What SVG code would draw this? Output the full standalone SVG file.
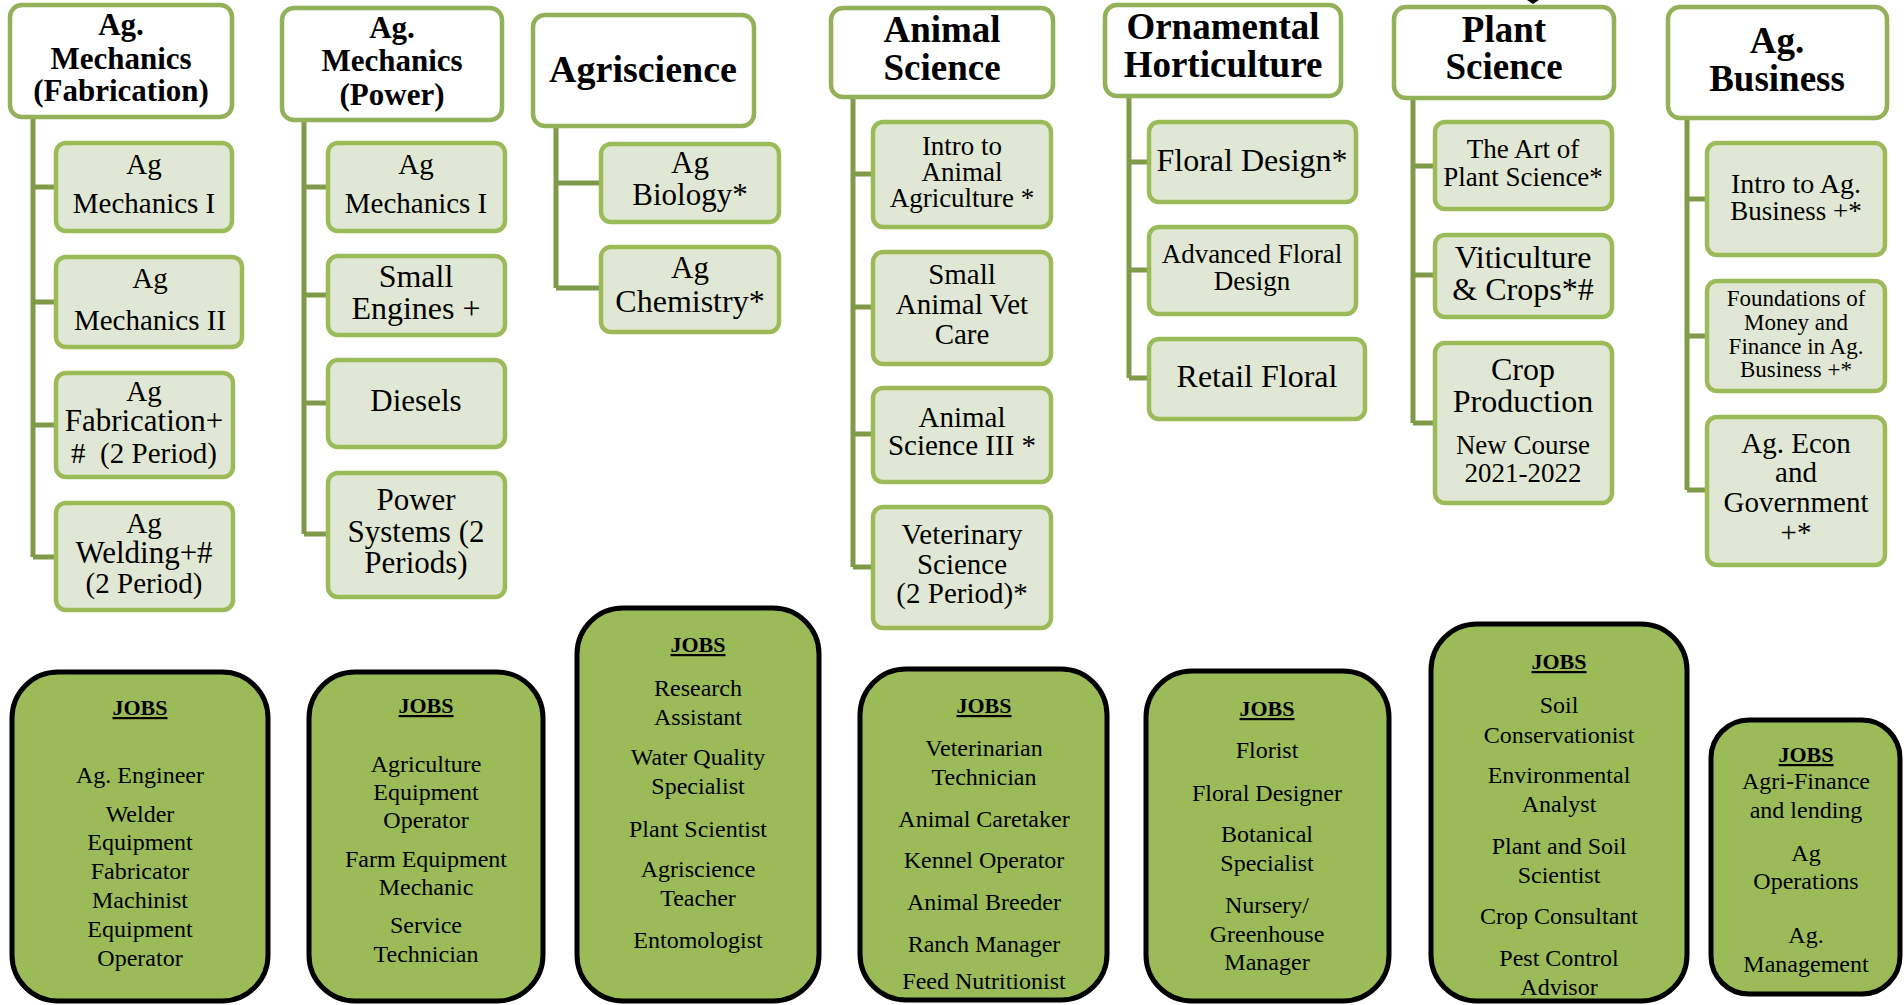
<svg xmlns="http://www.w3.org/2000/svg" width="1904" height="1005" viewBox="0 0 1904 1005" font-family="'Liberation Serif','DejaVu Serif',serif">
<style>
text{font-family:'Liberation Serif','DejaVu Serif',serif;fill:#000;text-anchor:middle}
.hd{fill:#fff;stroke:#93b158;stroke-width:4.5}
.cb{fill:#e0e8d5;stroke:#9bbb59;stroke-width:4.5}
.jb{fill:#9bbb59;stroke:#000;stroke-width:5}
.con{fill:none;stroke:#7f9b49;stroke-width:5}
.h1{font-size:31px;font-weight:bold}
.h2{font-size:37px;font-weight:bold}
.c{font-size:29px}
.cl{font-size:31px}
.cw{font-size:32px}
.cs{font-size:27px}
.cx{font-size:23px}
.j{font-size:24px}
.jh{font-size:22px;font-weight:bold;text-decoration:underline}
</style>
<rect width="1904" height="1005" fill="#fff"/>
<g id="connectors">
<path class="con" d="M33 117V557M33 187H56M33 302H56M33 425H56M33 557H56"/>
<path class="con" d="M304 120V534M304 187H328M304 295H328M304 403H328M304 534H328"/>
<path class="con" d="M556 126V288M556 183H601M556 288H601"/>
<path class="con" d="M853 97V567M853 174H873M853 307H873M853 434H873M853 567H873"/>
<path class="con" d="M1129 96V378M1129 162H1149M1129 270H1149M1129 378H1149"/>
<path class="con" d="M1413 98V423M1413 166H1435M1413 275H1435M1413 423H1435"/>
<path class="con" d="M1687 118V490M1687 199H1707M1687 336H1707M1687 490H1707"/>
</g>
<path id="tick" d="M1527 0H1539L1533 4Z" fill="#000"/>
<g id="h-fab"><rect class="hd" x="10" y="5" width="222" height="112" rx="12"/>
<text class="h1" x="121" y="35">Ag.</text><text class="h1" x="121" y="69">Mechanics</text><text class="h1" x="121" y="101">(Fabrication)</text></g>
<g id="c-fab1"><rect class="cb" x="56" y="143" width="176" height="88" rx="10"/>
<text class="c" x="144" y="174">Ag</text><text class="c" x="144" y="213">Mechanics I</text></g>
<g id="c-fab2"><rect class="cb" x="56" y="257" width="186" height="90" rx="10"/>
<text class="c" x="150" y="288">Ag</text><text class="c" x="150" y="330">Mechanics II</text></g>
<g id="c-fab3"><rect class="cb" x="56" y="373" width="177" height="104" rx="10"/>
<text class="c" x="144" y="401">Ag</text><text class="cl" x="144" y="431">Fabrication+</text><text class="c" x="144" y="463" xml:space="preserve">#  (2 Period)</text></g>
<g id="c-fab4"><rect class="cb" x="56" y="503" width="177" height="107" rx="10"/>
<text class="c" x="144" y="533">Ag</text><text class="cl" x="144" y="563">Welding+#</text><text class="c" x="144" y="593">(2 Period)</text></g>

<g id="h-pow"><rect class="hd" x="282" y="8" width="220" height="112" rx="12"/>
<text class="h1" x="392" y="38">Ag.</text><text class="h1" x="392" y="71">Mechanics</text><text class="h1" x="392" y="105">(Power)</text></g>
<g id="c-pow1"><rect class="cb" x="328" y="143" width="177" height="88" rx="10"/>
<text class="c" x="416" y="174">Ag</text><text class="c" x="416" y="213">Mechanics I</text></g>
<g id="c-pow2"><rect class="cb" x="328" y="256" width="177" height="79" rx="10"/>
<text class="cw" x="416" y="287">Small</text><text class="cw" x="416" y="319">Engines +</text></g>
<g id="c-pow3"><rect class="cb" x="328" y="360" width="177" height="87" rx="10"/>
<text class="cl" x="416" y="411">Diesels</text></g>
<g id="c-pow4"><rect class="cb" x="328" y="473" width="177" height="124" rx="10"/>
<text class="cl" x="416" y="510">Power</text><text class="cl" x="416" y="542">Systems (2</text><text class="cl" x="416" y="573">Periods)</text></g>

<g id="h-agri"><rect class="hd" x="533" y="15" width="221" height="111" rx="12"/>
<text class="h2" x="643" y="82" style="font-size:38px">Agriscience</text></g>
<g id="c-agri1"><rect class="cb" x="601" y="144" width="178" height="78" rx="10"/>
<text class="cl" x="690" y="173">Ag</text><text class="cl" x="690" y="205">Biology*</text></g>
<g id="c-agri2"><rect class="cb" x="601" y="247" width="178" height="85" rx="10"/>
<text class="cl" x="690" y="278">Ag</text><text class="cw" x="690" y="312">Chemistry*</text></g>

<g id="h-anim"><rect class="hd" x="831" y="8" width="222" height="89" rx="12"/>
<text class="h2" x="942" y="42">Animal</text><text class="h2" x="942" y="80">Science</text></g>
<g id="c-anim1"><rect class="cb" x="873" y="122" width="178" height="105" rx="10"/>
<text class="cs" x="962" y="155">Intro to</text><text class="cs" x="962" y="181">Animal</text><text class="cs" x="962" y="207">Agriculture *</text></g>
<g id="c-anim2"><rect class="cb" x="873" y="252" width="178" height="112" rx="10"/>
<text class="c" x="962" y="284">Small</text><text class="c" x="962" y="314">Animal Vet</text><text class="c" x="962" y="344">Care</text></g>
<g id="c-anim3"><rect class="cb" x="873" y="388" width="178" height="94" rx="10"/>
<text class="c" x="962" y="427">Animal</text><text class="c" x="962" y="455">Science III *</text></g>
<g id="c-anim4"><rect class="cb" x="873" y="507" width="178" height="121" rx="10"/>
<text class="c" x="962" y="544">Veterinary</text><text class="c" x="962" y="574">Science</text><text class="c" x="962" y="603">(2 Period)*</text></g>

<g id="h-orn"><rect class="hd" x="1105" y="5" width="236" height="91" rx="12"/>
<text class="h2" x="1223" y="39">Ornamental</text><text class="h2" x="1223" y="77">Horticulture</text></g>
<g id="c-orn1"><rect class="cb" x="1149" y="122" width="207" height="80" rx="10"/>
<text class="cw" x="1252" y="171">Floral Design*</text></g>
<g id="c-orn2"><rect class="cb" x="1149" y="227" width="207" height="87" rx="10"/>
<text class="cs" x="1252" y="263">Advanced Floral</text><text class="cs" x="1252" y="290">Design</text></g>
<g id="c-orn3"><rect class="cb" x="1149" y="339" width="216" height="80" rx="10"/>
<text class="cw" x="1257" y="387">Retail Floral</text></g>

<g id="h-plant"><rect class="hd" x="1394" y="7" width="220" height="91" rx="12"/>
<text class="h2" x="1504" y="42">Plant</text><text class="h2" x="1504" y="79">Science</text></g>
<g id="c-plant1"><rect class="cb" x="1435" y="122" width="177" height="87" rx="10"/>
<text class="cs" x="1523" y="158">The Art of</text><text class="cs" x="1523" y="186">Plant Science*</text></g>
<g id="c-plant2"><rect class="cb" x="1435" y="235" width="177" height="82" rx="10"/>
<text class="cw" x="1523" y="268">Viticulture</text><text class="cw" x="1523" y="300">&amp; Crops*#</text></g>
<g id="c-plant3"><rect class="cb" x="1435" y="343" width="177" height="160" rx="10"/>
<text class="cw" x="1523" y="380">Crop</text><text class="cw" x="1523" y="412">Production</text><text class="cs" x="1523" y="454">New Course</text><text class="cs" x="1523" y="482">2021-2022</text></g>

<g id="h-bus"><rect class="hd" x="1668" y="7" width="219" height="111" rx="12"/>
<text class="h2" x="1777" y="53">Ag.</text><text class="h2" x="1777" y="91">Business</text></g>
<g id="c-bus1"><rect class="cb" x="1707" y="143" width="178" height="112" rx="10"/>
<text class="cs" x="1796" y="193" style="font-size:28px">Intro to Ag.</text><text class="cs" x="1796" y="220">Business +*</text></g>
<g id="c-bus2"><rect class="cb" x="1707" y="281" width="178" height="110" rx="10"/>
<text class="cx" x="1796" y="306">Foundations of</text><text class="cx" x="1796" y="330">Money and</text><text class="cx" x="1796" y="354">Finance in Ag.</text><text class="cx" x="1796" y="377">Business +*</text></g>
<g id="c-bus3"><rect class="cb" x="1707" y="417" width="178" height="148" rx="10"/>
<text class="c" x="1796" y="453">Ag. Econ</text><text class="c" x="1796" y="482">and</text><text class="c" x="1796" y="512">Government</text><text class="c" x="1796" y="542">+*</text></g>

<g id="jobs-fab"><rect class="jb" x="12" y="672" width="256" height="329" rx="46"/>
<text class="jh" x="140" y="715">JOBS</text>
<text class="j" x="140" y="783">Ag. Engineer</text><text class="j" x="140" y="822">Welder</text><text class="j" x="140" y="850">Equipment</text><text class="j" x="140" y="879">Fabricator</text><text class="j" x="140" y="908">Machinist</text><text class="j" x="140" y="937">Equipment</text><text class="j" x="140" y="966">Operator</text></g>
<g id="jobs-pow"><rect class="jb" x="309" y="672" width="234" height="329" rx="46"/>
<text class="jh" x="426" y="713">JOBS</text>
<text class="j" x="426" y="772">Agriculture</text><text class="j" x="426" y="800">Equipment</text><text class="j" x="426" y="828">Operator</text><text class="j" x="426" y="867">Farm Equipment</text><text class="j" x="426" y="895">Mechanic</text><text class="j" x="426" y="933">Service</text><text class="j" x="426" y="962">Technician</text></g>
<g id="jobs-agri"><rect class="jb" x="577" y="608" width="242" height="393" rx="46"/>
<text class="jh" x="698" y="652">JOBS</text>
<text class="j" x="698" y="696">Research</text><text class="j" x="698" y="725">Assistant</text><text class="j" x="698" y="765">Water Quality</text><text class="j" x="698" y="794">Specialist</text><text class="j" x="698" y="837">Plant Scientist</text><text class="j" x="698" y="877">Agriscience</text><text class="j" x="698" y="906">Teacher</text><text class="j" x="698" y="948">Entomologist</text></g>
<g id="jobs-anim"><rect class="jb" x="860" y="669" width="247" height="331" rx="46"/>
<text class="jh" x="984" y="713">JOBS</text>
<text class="j" x="984" y="756">Veterinarian</text><text class="j" x="984" y="785">Technician</text><text class="j" x="984" y="827">Animal Caretaker</text><text class="j" x="984" y="868">Kennel Operator</text><text class="j" x="984" y="910">Animal Breeder</text><text class="j" x="984" y="952">Ranch Manager</text><text class="j" x="984" y="989">Feed Nutritionist</text></g>
<g id="jobs-orn"><rect class="jb" x="1146" y="671" width="243" height="330" rx="46"/>
<text class="jh" x="1267" y="716">JOBS</text>
<text class="j" x="1267" y="758">Florist</text><text class="j" x="1267" y="801">Floral Designer</text><text class="j" x="1267" y="842">Botanical</text><text class="j" x="1267" y="871">Specialist</text><text class="j" x="1267" y="913">Nursery/</text><text class="j" x="1267" y="942">Greenhouse</text><text class="j" x="1267" y="970">Manager</text></g>
<g id="jobs-plant"><rect class="jb" x="1431" y="624" width="256" height="377" rx="46"/>
<text class="jh" x="1559" y="669">JOBS</text>
<text class="j" x="1559" y="713">Soil</text><text class="j" x="1559" y="743">Conservationist</text><text class="j" x="1559" y="783">Environmental</text><text class="j" x="1559" y="812">Analyst</text><text class="j" x="1559" y="854">Plant and Soil</text><text class="j" x="1559" y="883">Scientist</text><text class="j" x="1559" y="924">Crop Consultant</text><text class="j" x="1559" y="966">Pest Control</text><text class="j" x="1559" y="995">Advisor</text></g>
<g id="jobs-bus"><rect class="jb" x="1711" y="720" width="189" height="274" rx="38"/>
<text class="jh" x="1806" y="762">JOBS</text>
<text class="j" x="1806" y="789">Agri-Finance</text><text class="j" x="1806" y="818">and lending</text><text class="j" x="1806" y="861">Ag</text><text class="j" x="1806" y="889">Operations</text><text class="j" x="1806" y="943">Ag.</text><text class="j" x="1806" y="972">Management</text></g>
</svg>
